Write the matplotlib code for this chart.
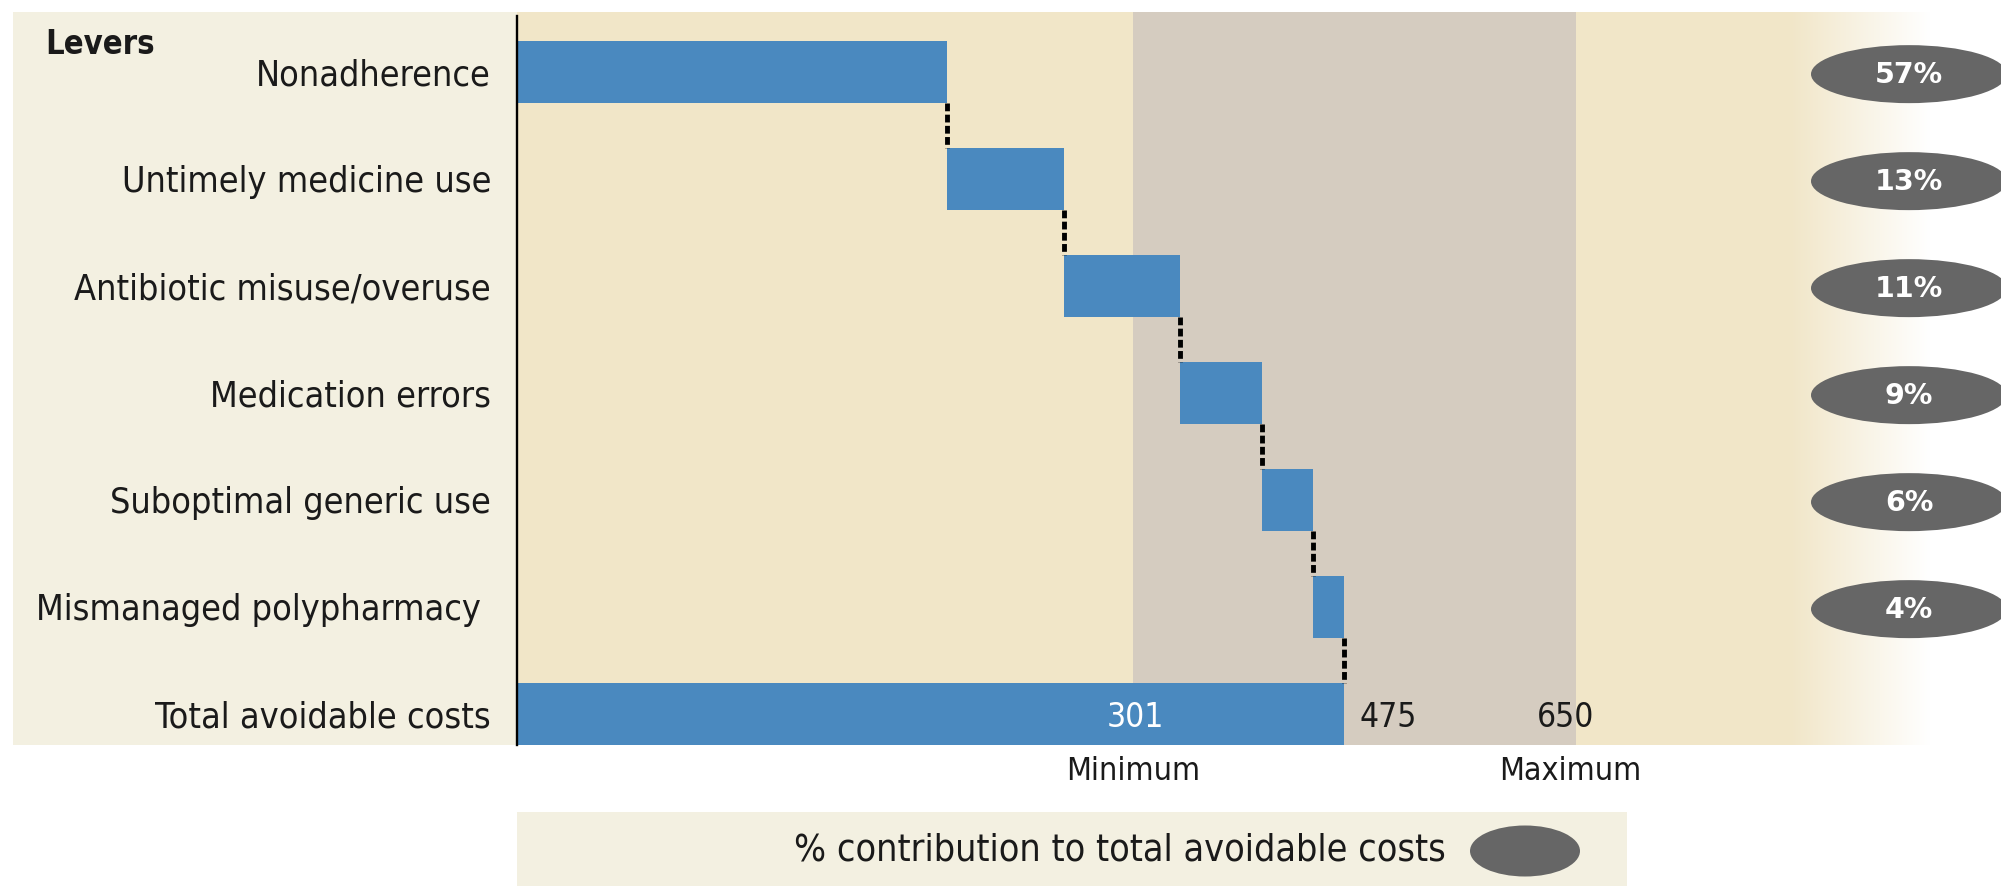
import os
import numpy as np
import matplotlib
matplotlib.use("Agg")
import matplotlib.pyplot as plt
from matplotlib.patches import Rectangle, Ellipse
from matplotlib import font_manager as fm
from matplotlib.colors import to_rgb

# ---------------- data ----------------
levers = ["Nonadherence", "Untimely medicine use", "Antibiotic misuse/overuse",
          "Medication errors", "Suboptimal generic use", "Mismanaged polypharmacy "]
lever_values = [247, 67, 67, 47, 29, 18]          # bar widths
shares = ["57%", "13%", "11%", "9%", "6%", "4%"]  # % contribution to total
total_label = "Total avoidable costs"
total_value = 475
range_labels = ["301", "475", "650"]
range_names = ["Minimum", "Maximum"]
band_start, band_end = 354, 608                    # drawn extent of min-max band
legend_text = "% contribution to total avoidable costs"

# ---------------- fonts ----------------
def find_font(basenames):
    paths = [f.fname for f in fm.fontManager.ttflist]
    try:
        paths += fm.findSystemFonts()
    except Exception:
        pass
    for b in basenames:
        for p in paths:
            if os.path.basename(p) == b:
                return p
    return None

reg_path = find_font(["DejaVuSansCondensed.ttf", "LiberationSansNarrow-Regular.ttf"])
bold_path = find_font(["DejaVuSansCondensed-Bold.ttf", "LiberationSansNarrow-Bold.ttf"])
fp_reg = fm.FontProperties(fname=reg_path) if reg_path else fm.FontProperties(family="DejaVu Sans")
fp_bold = fm.FontProperties(fname=bold_path) if bold_path else fm.FontProperties(family="DejaVu Sans", weight="bold")

# ---------------- colours ----------------
C_PANEL = "#F3F0E1"
C_PLOT = "#F1E6C8"
C_BAND = "#D5CCC0"
C_BAR = "#4A89BF"
C_OVAL = "#666666"
C_TXT = "#1a1a1a"

W, H = 2001, 887
fig = plt.figure(figsize=(W / 100, H / 100), dpi=100)
fig.patch.set_facecolor("white")

AX_L, AX_T, AX_B = 517, 13, 746
ppu = (1344 - AX_L) / total_value      # pixels per data unit
row_px = 107.0

# left label panel
fig.patches.append(Rectangle((13 / W, 1 - AX_B / H), (AX_L - 13) / W, (AX_B - AX_T) / H,
                             transform=fig.transFigure, facecolor=C_PANEL, edgecolor="none", zorder=-2))
# legend panel
fig.patches.append(Rectangle((517 / W, 0), (1627 - 517) / W, (887 - 813) / H,
                             transform=fig.transFigure, facecolor=C_PANEL, edgecolor="none", zorder=-2))

ax = fig.add_axes([AX_L / W, 1 - AX_B / H, (W - AX_L) / W, (AX_B - AX_T) / H])
ax.set_facecolor("none")
xmax = (W - AX_L) / ppu
n = len(levers)
y_bottom = n + 31 / row_px
y_top = -(73 - AX_T) / row_px
for s in ax.spines.values():
    s.set_visible(False)
ax.set_xticks([])
ax.set_yticks([])

# background: cream with fade to white at right
g0 = (1790 - AX_L) / ppu
g1 = (1930 - AX_L) / ppu
ax.axvspan(0, g0, color=C_PLOT, lw=0, zorder=0)
c0 = np.array(to_rgb(C_PLOT))
t = np.linspace(0, 1, 256)
grad = (c0[None, :] * (1 - t[:, None]) + np.ones(3)[None, :] * t[:, None])[None, :, :]
ax.imshow(grad, extent=(g0, g1, y_bottom, y_top), aspect="auto", zorder=0, interpolation="bilinear")
ax.set_xlim(0, xmax)
ax.set_ylim(y_bottom, y_top)

# min-max band
ax.axvspan(band_start, band_end, color=C_BAND, lw=0, zorder=1)

# waterfall bars
bh = 0.58
cum = np.concatenate([[0], np.cumsum(lever_values)])
for i, v in enumerate(lever_values):
    ax.barh(i, v, left=cum[i], height=bh, color=C_BAR, lw=0, zorder=3)
ax.barh(n, total_value, left=0, height=bh, color=C_BAR, lw=0, zorder=3)

# dotted connectors
for i in range(n):
    x = cum[i + 1]
    ax.plot([x, x], [i + bh / 2, i + 1 - bh / 2], color="black", lw=3.5,
            ls=(0, (1.6, 0.7)), zorder=4, solid_capstyle="butt")

# axis line
ax.plot([0, 0], [y_top + 4 / row_px, y_bottom], color="black", lw=1.7, zorder=5, clip_on=False)

# lever labels
lab_dx = -26 / ppu
for i, lab in enumerate(levers):
    ax.text(lab_dx, i + 0.02, lab, ha="right", va="center", fontproperties=fp_reg, fontsize=25.8,
            color=C_TXT, clip_on=False)
ax.text(lab_dx, n + 0.02, total_label, ha="right", va="center", fontproperties=fp_reg, fontsize=25.8,
        color=C_TXT, clip_on=False)
fig.text(45 / W, 1 - 45 / H, "Levers", ha="left", va="center", fontproperties=fp_bold,
         fontsize=23.5, color=C_TXT)

# range labels
ax.text(band_start + 1, n + 0.02, range_labels[0], ha="center", va="center", color="white",
        fontproperties=fp_reg, fontsize=24, zorder=6)
ax.text(total_value + 9, n + 0.02, range_labels[1], ha="left", va="center", color=C_TXT,
        fontproperties=fp_reg, fontsize=24, zorder=6)
ax.text(band_end - 6, n + 0.02, range_labels[2], ha="center", va="center", color=C_TXT,
        fontproperties=fp_reg, fontsize=24, zorder=6)
y_mm = y_bottom + (772 - AX_B) / row_px
ax.text(band_start, y_mm, range_names[0], ha="center", va="center", color=C_TXT,
        fontproperties=fp_reg, fontsize=23, clip_on=False)
ax.text(band_end - 3, y_mm, range_names[1], ha="center", va="center", color=C_TXT,
        fontproperties=fp_reg, fontsize=23, clip_on=False)

# percentage ovals
ox = (1909 - AX_L) / ppu
ow = 196 / ppu
oh = 58 / row_px
for i, s in enumerate(shares):
    ax.add_patch(Ellipse((ox, i + 0.02), ow, oh, facecolor=C_OVAL, edgecolor="none", zorder=5,
                         clip_on=False))
    ax.text(ox, i + 0.02, s, ha="center", va="center", color="white",
            fontsize=20.5, fontweight="bold", family="DejaVu Sans", zorder=6, clip_on=False)

# legend
fig.text(1120 / W, 1 - 851 / H, legend_text, ha="center", va="center", fontproperties=fp_reg,
         fontsize=27, color=C_TXT)
fig.patches.append(Ellipse((1525 / W, 1 - 852 / H), 110 / W, 51 / H, transform=fig.transFigure,
                           facecolor=C_OVAL, edgecolor="none", zorder=1))

fig.savefig("out.png", dpi=100, facecolor="white")
